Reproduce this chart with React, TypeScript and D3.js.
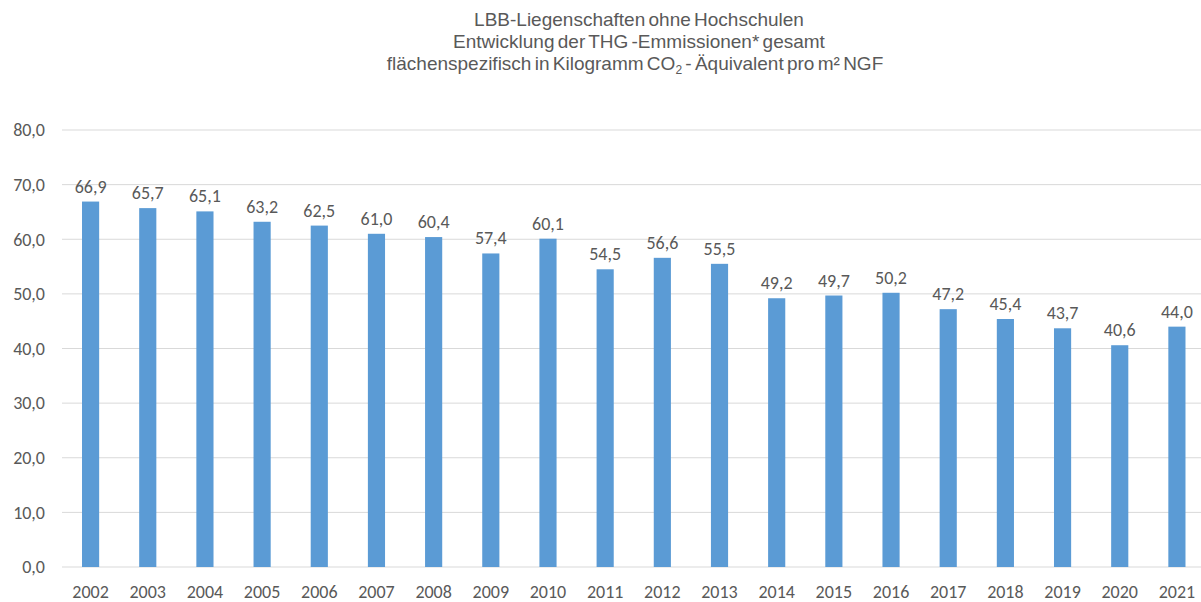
import React from "react";
import * as d3 from "d3";

const years = ["2002","2003","2004","2005","2006","2007","2008","2009","2010","2011","2012","2013","2014","2015","2016","2017","2018","2019","2020","2021"];
const values = [66.9,65.7,65.1,63.2,62.5,61.0,60.4,57.4,60.1,54.5,56.6,55.5,49.2,49.7,50.2,47.2,45.4,43.7,40.6,44.0];
const yTicks = [0,10,20,30,40,50,60,70,80];

const fmt = (v: number) => v.toFixed(1).replace(".", ",");

export default function App() {
  const W = 1201, H = 602;
  const x = d3.scaleBand<string>().domain(years).range([62, 1205.5]).paddingInner(0.7).paddingOuter(0.35);
  const y = d3.scaleLinear().domain([0, 80]).range([567, 130]);
  const labelFont = "Calibri, Carlito, 'Open Sans', 'Liberation Sans', sans-serif";
  const textColor = "#595959";
  return (
    <svg width={W} height={H} style={{ position: "absolute", left: 0, top: 0, background: "#fff" }}>
      <g fontFamily="'Liberation Sans', Arial, sans-serif" fontSize={19} fill={textColor} textAnchor="middle" wordSpacing={-2}>
        <text x={639} y={26}>LBB-Liegenschaften ohne Hochschulen</text>
        <text x={639} y={48}>Entwicklung der THG -Emmissionen* gesamt</text>
        <text x={635} y={70}>
          flächenspezifisch in Kilogramm CO
          <tspan fontSize={12} dy={4}>2</tspan>
          <tspan dy={-4}> - Äquivalent pro m² NGF</tspan>
        </text>
      </g>
      {yTicks.map(t => (
        <g key={t}>
          <line x1={62} x2={W} y1={y(t)} y2={y(t)} stroke="#D9D9D9" strokeWidth={1} />
          <text x={45} y={y(t)} dy="0.35em" textAnchor="end" fontFamily={labelFont} fontSize={18} fill={textColor}>{fmt(t)}</text>
        </g>
      ))}
      {years.map((yr, i) => (
        <g key={yr}>
          <rect x={x(yr)} y={y(values[i])} width={x.bandwidth()} height={y(0) - y(values[i])} fill="#5B9BD5" />
          <text x={(x(yr) as number) + x.bandwidth() / 2} y={y(values[i]) - 9} textAnchor="middle" fontFamily={labelFont} fontSize={18} fill={textColor}>{fmt(values[i])}</text>
          <text x={(x(yr) as number) + x.bandwidth() / 2} y={592} dy="0.35em" textAnchor="middle" fontFamily={labelFont} fontSize={18} fill={textColor}>{yr}</text>
        </g>
      ))}
    </svg>
  );
}
